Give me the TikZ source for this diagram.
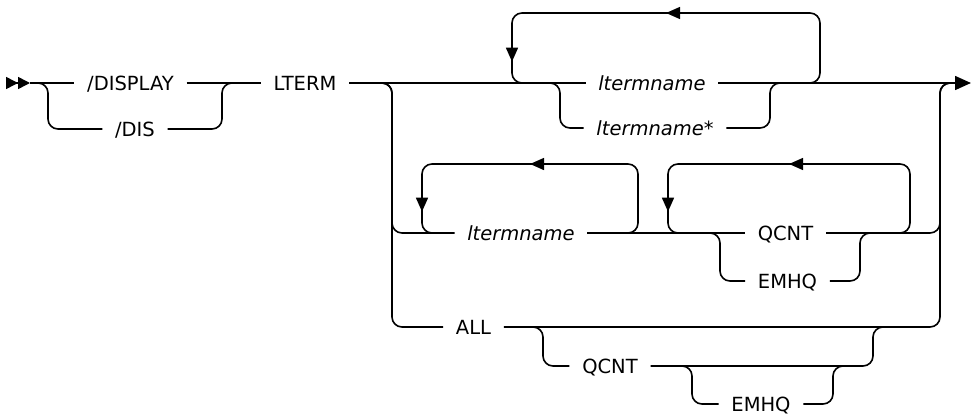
\documentclass[tikz,border=0pt]{standalone}
\usepackage{fontspec}
\setmainfont{DejaVu Sans}
\usetikzlibrary{arrows.meta,decorations.markings}

\begin{document}
\begin{tikzpicture}[x=1pt,y=-1pt,
  line width=1.6pt, >={Triangle[length=14pt,width=12pt]},
  every node/.style={font=\fontsize{19.5}{22}\selectfont,text height=14pt,text depth=0pt,inner xsep=12pt,inner ysep=0pt},
  var/.style={font=\fontsize{19.5}{22}\selectfont\itshape},
  rc/.style={rounded corners=10pt},
  loopback/.style={rc,postaction={decorate},decoration={markings,
      mark=at position 0.5 with {\arrow{>}},
      mark=at position -27pt with {\arrow{>}}}}]
\useasboundingbox (0,0) rectangle (972,415);
% keywords and variables
\node (display) at (130.5,83) {/DISPLAY};
\node (dis) at (135,129) {/DIS};
\node (lterm) at (305,83) {LTERM};
\node[var] (ltn) at (652,83) {ltermname};
\node[var] (ltnstar) at (655,128) {ltermname*};
\node[var] (ltnrep) at (521,233) {ltermname};
\node (qcnt) at (785.5,233) {QCNT};
\node (emhq) at (787.5,281) {EMHQ};
\node (all) at (473.5,327) {ALL};
\node (allqcnt) at (610,366) {QCNT};
\node (allemhq) at (761,404) {EMHQ};
% rail junctions
\coordinate (origin) at (6,83); \coordinate (start) at (30,83); \coordinate (fin) at (971,83);
\coordinate (dispin) at (38,83); \coordinate (dispout) at (232,83);
\coordinate (stackin) at (382,83); \coordinate (stackout) at (950,83);
\coordinate (namein) at (550,83); \coordinate (nameout) at (780,83);
\coordinate (rep1in) at (810,83); \coordinate (rep1out) at (512,83);
\coordinate (rep2in) at (628,233); \coordinate (rep2out) at (422,233);
\coordinate (rep3in) at (900,233); \coordinate (rep3out) at (668,233);
\coordinate (queuein) at (710,233); \coordinate (queueout) at (870,233);
\coordinate (optin) at (533,327); \coordinate (optout) at (883,327);
\coordinate (emhqin) at (682,366); \coordinate (emhqout) at (843,366);
% main rail
\draw[-{Triangle[length=12pt,width=12pt]Triangle[length=12pt,width=12pt]}] (origin) -- (start);
\draw (start) -- (display) -- (lterm) -- (ltn);
\draw[-{Triangle[length=16pt,width=14pt]}] (ltn) -- (fin);
\draw[rc] (dispin) -- ++(10,0) |- (dis);
\draw[rc] (dispout) -- ++(-10,0) |- (dis);
\draw[rc] (namein) -- ++(10,0) |- (ltnstar);
\draw[rc] (nameout) -- ++(-10,0) |- (ltnstar);
\draw[loopback] (rep1in) -- ++(10,0) -- ++(0,-70) -| (rep1out) -- ++(10,0);
% stack of alternatives
\draw[rc] (stackin) -- ++(10,0) |- (ltnrep);
\draw[rc] (stackin) -- ++(10,0) |- (all);
\draw[rc] (stackout) -- ++(-10,0) |- (qcnt);
\draw[rc] (stackout) -- ++(-10,0) |- (all);
\draw (ltnrep) -- (qcnt);
\draw[loopback] (rep2in) -- ++(10,0) -- ++(0,-69) -| (rep2out) -- ++(10,0);
\draw[loopback] (rep3in) -- ++(10,0) -- ++(0,-69) -| (rep3out) -- ++(10,0);
\draw[rc] (queuein) -- ++(10,0) |- (emhq);
\draw[rc] (queueout) -- ++(-10,0) |- (emhq);
% ALL options
\draw[rc] (optin) -- ++(10,0) |- (allqcnt);
\draw[rc] (optout) -- ++(-10,0) |- (allqcnt);
\draw[rc] (emhqin) -- ++(10,0) |- (allemhq);
\draw[rc] (emhqout) -- ++(-10,0) |- (allemhq);
\end{tikzpicture}
\end{document}
